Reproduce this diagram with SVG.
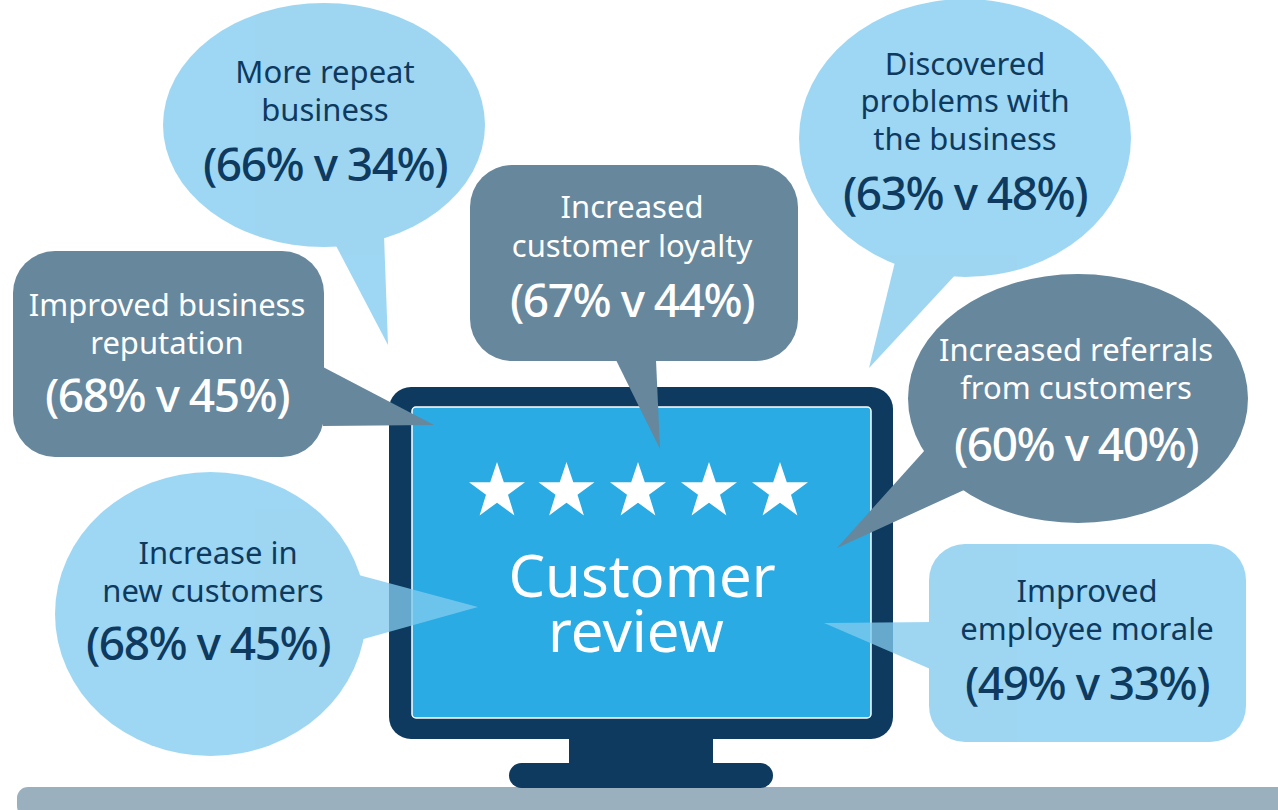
<svg xmlns="http://www.w3.org/2000/svg" width="1278" height="810" viewBox="0 0 1278 810">
<style>
text{font-family:"Noto Sans","Open Sans",sans-serif;text-anchor:middle}
.l{font-size:31px}
.n{font-size:46px;font-weight:500;letter-spacing:-1.5px}
.d{fill:#0d3a5e}
.w{fill:#fff}
.dark{fill:#67879d}
.light{fill:#81cbef;opacity:.77}
.navy{fill:#0d3a5e}
</style>
<defs>
<polygon id="star" points="0,-29.5 6.8,-9.3 28,-9.3 11,3.2 17.4,23.9 0,11.2 -17.4,23.9 -11,3.2 -28,-9.3 -6.8,-9.3"/>
</defs>
<rect x="17" y="787" width="1290" height="30" rx="11" fill="#9bb0bf"/>
<g id="monitor">
<rect class="navy" x="389" y="387" width="504" height="352" rx="22"/>
<rect class="navy" x="569" y="735" width="144" height="32"/>
<rect class="navy" x="509" y="763" width="264" height="25" rx="12.5"/>
<rect x="412" y="407" width="459" height="311" rx="4" fill="#2aabe3" stroke="#fff" stroke-width="1.5"/>
<g fill="#fff">
<use href="#star" x="497" y="491.5"/>
<use href="#star" x="566.5" y="491.5"/>
<use href="#star" x="638" y="491.5"/>
<use href="#star" x="709" y="491.5"/>
<use href="#star" x="780" y="491.5"/>
</g>
<text class="w" x="642" y="597" font-size="58">Customer</text>
<text class="w" x="636" y="652" font-size="58">review</text>
</g>
<g id="repeat-business">
<g class="light"><ellipse cx="324" cy="125" rx="161" ry="122"/><polygon points="333,240 388,345 384,235"/></g>
<text class="l d" x="325" y="83">More repeat</text>
<text class="l d" x="325" y="121">business</text>
<text class="n d" x="325" y="181">(66% v 34%)</text>
</g>
<g id="discovered-problems">
<g class="light"><ellipse cx="965" cy="138" rx="166" ry="139"/><polygon points="895,262 869,368 958,272"/></g>
<text class="l d" x="965" y="75">Discovered</text>
<text class="l d" x="965" y="112">problems with</text>
<text class="l d" x="965" y="150">the business</text>
<text class="n d" x="965" y="210">(63% v 48%)</text>
</g>
<g id="customer-loyalty">
<rect class="dark" x="470" y="165" width="328" height="196" rx="42"/>
<polygon class="dark" points="616,360 660,449 656,360"/>
<text class="l w" x="632" y="218">Increased</text>
<text class="l w" x="632" y="257">customer loyalty</text>
<text class="n w" x="632" y="317">(67% v 44%)</text>
</g>
<g id="business-reputation">
<rect class="dark" x="13" y="251" width="311" height="206" rx="42"/>
<polygon class="dark" points="323,367 434,425 323,426"/>
<text class="l w" x="167" y="316">Improved business</text>
<text class="l w" x="167" y="354">reputation</text>
<text class="n w" x="167" y="412">(68% v 45%)</text>
</g>
<g id="referrals">
<ellipse class="dark" cx="1078" cy="398.500" rx="170" ry="124.500"/>
<polygon class="dark" points="925,450 837,548 975,485"/>
<text class="l w" x="1076" y="361">Increased referrals</text>
<text class="l w" x="1076" y="399">from customers</text>
<text class="n w" x="1076" y="461">(60% v 40%)</text>
</g>
<g id="new-customers">
<g class="light"><ellipse cx="210.500" cy="614" rx="155.500" ry="142"/><polygon points="355,574 478,607 360,640"/></g>
<text class="l d" x="218" y="564">Increase in</text>
<text class="l d" x="213" y="602">new customers</text>
<text class="n d" x="208" y="660">(68% v 45%)</text>
</g>
<g id="employee-morale">
<g class="light"><rect x="929" y="544" width="317" height="198" rx="36"/><polygon points="935,622 824,623 935,671"/></g>
<text class="l d" x="1087" y="602">Improved</text>
<text class="l d" x="1087" y="640">employee morale</text>
<text class="n d" x="1087" y="700">(49% v 33%)</text>
</g>
</svg>
